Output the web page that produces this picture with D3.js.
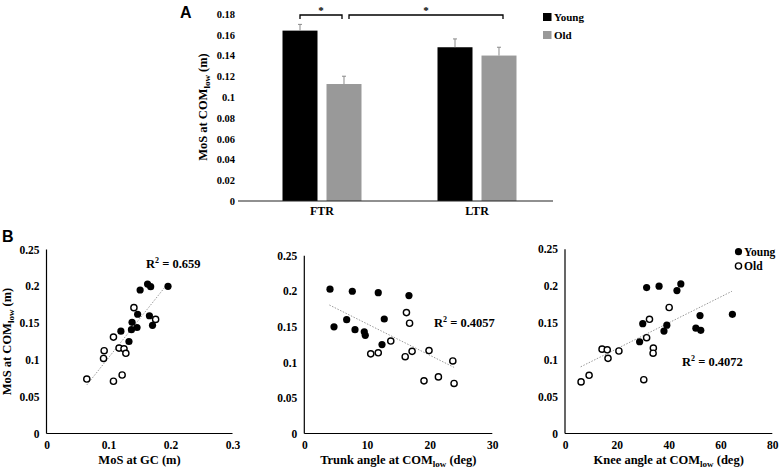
<!DOCTYPE html>
<html><head><meta charset="utf-8">
<script src="https://cdn.jsdelivr.net/npm/d3@7"></script>
<style>
html,body{margin:0;padding:0;background:#fff;}
svg{display:block;}
text{font-family:"Liberation Serif","Times New Roman",serif;font-weight:bold;fill:#000;}
</style></head>
<body><svg id="c" width="781" height="470"></svg>
<script>
// ---- Panel A data ----
const categoriesA = ["FTR", "LTR"];
const groupsA = ["Young", "Old"];
const youngMeans = [0.164, 0.148];
const oldMeans = [0.1126, 0.140];
const youngErr = [0.006, 0.008];
const oldErr = [0.0075, 0.008];
const ticksA = [0, 0.02, 0.04, 0.06, 0.08, 0.1, 0.12, 0.14, 0.16, 0.18];

// ---- Panel B data ----
const ticksMoS = [0, 0.05, 0.1, 0.15, 0.2, 0.25];
const ticksGC = [0, 0.1, 0.2, 0.3];
const ticksTrunk = [0, 10, 20, 30];
const ticksKnee = [0, 20, 40, 60, 80];

const gcYoung = [[0.151,0.195],[0.163,0.203],[0.168,0.1995],[0.196,0.200],[0.147,0.162],[0.166,0.160],[0.171,0.147],[0.138,0.151],[0.146,0.144],[0.137,0.141],[0.120,0.139],[0.133,0.125]];
const gcOld = [[0.141,0.171],[0.176,0.155],[0.108,0.131],[0.117,0.116],[0.125,0.115],[0.128,0.109],[0.093,0.1125],[0.092,0.102],[0.065,0.074],[0.122,0.0795],[0.108,0.071]];
const gcTrend = [[0.065,0.066],[0.193,0.201]];

const trunkYoung = [[4.1,0.203],[7.66,0.200],[11.8,0.198],[16.7,0.194],[6.76,0.160],[12.76,0.161],[4.74,0.150],[8.09,0.146],[9.57,0.143],[9.73,0.138],[12.4,0.125]];
const trunkOld = [[16.3,0.170],[16.8,0.155],[13.8,0.130],[10.6,0.112],[11.8,0.1135],[16.1,0.108],[17.2,0.1155],[19.9,0.1166],[23.7,0.102],[19.1,0.074],[21.4,0.0796],[23.9,0.0704]];
const trunkTrend = [[4.0,0.1807],[23.9,0.093]];

const kneeYoung = [[31.5,0.198],[36.3,0.200],[43.2,0.194],[44.7,0.203],[30.0,0.149],[39.3,0.147],[38.2,0.139],[28.8,0.1245],[52.1,0.160],[50.5,0.143],[52.4,0.140],[64.6,0.1617]];
const kneeOld = [[40.2,0.171],[32.6,0.155],[31.5,0.130],[14.3,0.1145],[16.3,0.1136],[20.8,0.112],[16.6,0.102],[34.1,0.116],[34.0,0.109],[9.3,0.079],[6.2,0.070],[30.4,0.073]];
const kneeTrend = [[6.05,0.0905],[64.4,0.193]];

const r2Labels = ["0.659", "0.4057", "0.4072"];

const svg = d3.select("#c");
const fmt = d => String(+d.toFixed(2));

// ================= Panel A =================
const yA = d3.scaleLinear().domain([0, 0.18]).range([201, 14]);
const xA = d3.scaleBand().domain(categoriesA).range([244.5, 554.5]);
const xInner = d3.scaleBand().domain(groupsA).range([38, 117]).paddingInner(0.2045);
const colorA = {Young: "#000000", Old: "#999999"};
const seriesA = {Young: {m: youngMeans, e: youngErr}, Old: {m: oldMeans, e: oldErr}};

const gA = svg.append("g");
const axA = d3.axisLeft(yA).tickValues(ticksA).tickFormat(fmt).tickSize(0).tickPadding(0);
const gAy = gA.append("g").attr("transform", "translate(235,0)").call(axA);
gAy.select(".domain").remove();
gAy.selectAll("text").style("font-family", '"Liberation Serif",serif').style("font-weight", "bold").style("font-size", "10.5px").attr("fill", "#000");

groupsA.forEach(g => {
  categoriesA.forEach((c, i) => {
    const x0 = xA(c) + xInner(g);
    const v = seriesA[g].m[i];
    const e = seriesA[g].e[i];
    gA.append("rect").attr("x", x0).attr("y", yA(v)).attr("width", xInner.bandwidth())
      .attr("height", yA(0) - yA(v)).attr("fill", colorA[g]);
    const cx = x0 + xInner.bandwidth() / 2;
    gA.append("line").attr("x1", cx).attr("x2", cx).attr("y1", yA(v)).attr("y2", yA(v + e))
      .attr("stroke", "#8a8a8a").attr("stroke-width", 1);
    gA.append("line").attr("x1", cx - 2).attr("x2", cx + 2).attr("y1", yA(v + e)).attr("y2", yA(v + e))
      .attr("stroke", "#8a8a8a").attr("stroke-width", 1);
  });
});
gA.append("line").attr("x1", 238).attr("x2", 553).attr("y1", yA(0)).attr("y2", yA(0))
  .attr("stroke", "#222").attr("stroke-width", 1.2);
const axAx = d3.axisBottom(xA).tickSize(0).tickPadding(0);
const gAx = gA.append("g").attr("transform", `translate(0,${yA(0) + 5})`).call(axAx);
gAx.select(".domain").remove();
gAx.selectAll("text").style("font-family", '"Liberation Serif",serif').style("font-weight", "bold").style("font-size", "12px").attr("fill", "#000").attr("dy", "0.71em");

function bracket(x1, x2, y) {
  gA.append("path").attr("d", `M${x1},${y + 4}V${y}H${x2}V${y + 4}`)
    .attr("fill", "none").attr("stroke", "#000").attr("stroke-width", 1.3);
  gA.append("text").attr("x", (x1 + x2) / 2).attr("y", y - 1).attr("text-anchor", "middle")
    .style("font-size", "11px").text("*");
}
const cYF = xA("FTR") + xInner("Young") + xInner.bandwidth() / 2;
const cOF = xA("FTR") + xInner("Old") + xInner.bandwidth() / 2;
const cOL = xA("LTR") + xInner("Old") + xInner.bandwidth() / 2;
bracket(cYF, cOF - 2, 15);
bracket(cOF + 5, cOL + 4, 15);

gA.append("text").attr("transform", "translate(207,107) rotate(-90)").attr("text-anchor", "middle")
  .style("font-size", "12.5px")
  .call(t => {
    t.append("tspan").text("MoS at COM");
    t.append("tspan").attr("dy", 3).style("font-size", "9px").text("low");
    t.append("tspan").attr("dy", -3).text(" (m)");
  });
groupsA.forEach((g, i) => {
  gA.append("rect").attr("x", 543).attr("y", 13 + i * 18).attr("width", 8.5).attr("height", 8).attr("fill", colorA[g]);
  gA.append("text").attr("x", 554).attr("y", 20.5 + i * 18).style("font-size", "11px").text(g);
});
svg.append("text").attr("x", 180).attr("y", 18).style("font-family", '"Liberation Sans",Arial,sans-serif')
  .style("font-weight", "bold").style("font-size", "16px").text("A");

// ================= Panel B =================
svg.append("text").attr("x", 2).attr("y", 242).style("font-family", '"Liberation Sans",Arial,sans-serif')
  .style("font-weight", "bold").style("font-size", "16px").text("B");

const plots = [
  {young: gcYoung, old: gcOld, trend: gcTrend, xd: [0, 0.3], xr: [46.5, 232.5], yr: [433.5, 249.5], xt: ticksGC,
   title: ["MoS at GC (m)"], r2: r2Labels[0], r2x: 146, r2y: 268, ytitle: true},
  {young: trunkYoung, old: trunkOld, trend: trunkTrend, xd: [0, 30], xr: [304.3, 492.3], yr: [433.5, 255.7], xt: ticksTrunk,
   title: ["Trunk angle at COM", "low", " (deg)"], r2: r2Labels[1], r2x: 434, r2y: 327, ytitle: false},
  {young: kneeYoung, old: kneeOld, trend: kneeTrend, xd: [0, 80], xr: [565, 772.3], yr: [433.5, 249.3], xt: ticksKnee,
   title: ["Knee angle at COM", "low", " (deg)"], r2: r2Labels[2], r2x: 682, r2y: 366, ytitle: false, legend: true}
];

plots.forEach(p => {
  const g = svg.append("g");
  const x = d3.scaleLinear().domain(p.xd).range(p.xr);
  const y = d3.scaleLinear().domain([0, 0.25]).range(p.yr);
  const ax = d3.axisBottom(x).tickValues(p.xt).tickFormat(fmt).tickSize(0).tickPadding(7);
  const gx = g.append("g").attr("transform", `translate(0,${p.yr[0]})`).call(ax);
  gx.select(".domain").attr("stroke", "#000").attr("stroke-width", 1.2).attr("d", `M${p.xr[0]},0H${p.xr[1]}`);
  gx.selectAll("text").style("font-family", '"Liberation Serif",serif').style("font-weight", "bold").style("font-size", "11.5px").attr("fill", "#000");
  const ay = d3.axisLeft(y).tickValues(ticksMoS).tickFormat(fmt).tickSize(0).tickPadding(7);
  const gy = g.append("g").attr("transform", `translate(${p.xr[0]},0)`).call(ay);
  gy.select(".domain").attr("stroke", "#000").attr("stroke-width", 1.2).attr("d", `M0,${p.yr[0]}V${p.yr[1]}`);
  gy.selectAll("text").style("font-family", '"Liberation Serif",serif').style("font-weight", "bold").style("font-size", "11.5px").attr("fill", "#000");

  g.append("line").attr("x1", x(p.trend[0][0])).attr("y1", y(p.trend[0][1]))
    .attr("x2", x(p.trend[1][0])).attr("y2", y(p.trend[1][1]))
    .attr("stroke", "#9a9a9a").attr("stroke-width", 1).attr("stroke-dasharray", "1.5,1.5");
  g.selectAll(".o").data(p.old).join("circle").attr("cx", d => x(d[0])).attr("cy", d => y(d[1]))
    .attr("r", 3.1).attr("fill", "#fff").attr("stroke", "#000").attr("stroke-width", 1.4);
  g.selectAll(".y").data(p.young).join("circle").attr("cx", d => x(d[0])).attr("cy", d => y(d[1]))
    .attr("r", 3.6).attr("fill", "#000");

  const tx = g.append("text").attr("x", (p.xr[0] + p.xr[1]) / 2).attr("y", 464).attr("text-anchor", "middle").style("font-size", "12.5px");
  tx.append("tspan").text(p.title[0]);
  if (p.title.length > 1) {
    tx.append("tspan").attr("dy", 3).style("font-size", "9px").text(p.title[1]);
    tx.append("tspan").attr("dy", -3).text(p.title[2]);
  }
  const tr = g.append("text").attr("x", p.r2x).attr("y", p.r2y).style("font-size", "12.5px");
  tr.append("tspan").text("R");
  tr.append("tspan").attr("dy", -5).style("font-size", "8px").text("2");
  tr.append("tspan").attr("dy", 5).text(" = " + p.r2);

  if (p.ytitle) {
    g.append("text").attr("transform", `translate(11,${(p.yr[0] + p.yr[1]) / 2}) rotate(-90)`).attr("text-anchor", "middle")
      .style("font-size", "12.5px")
      .call(t => {
        t.append("tspan").text("MoS at COM");
        t.append("tspan").attr("dy", 3).style("font-size", "9px").text("low");
        t.append("tspan").attr("dy", -3).text(" (m)");
      });
  }
  if (p.legend) {
    g.append("circle").attr("cx", 738.5).attr("cy", 251.7).attr("r", 3.6).attr("fill", "#000");
    g.append("text").attr("x", 744).attr("y", 255.5).style("font-size", "11.5px").text("Young");
    g.append("circle").attr("cx", 738.5).attr("cy", 266).attr("r", 3.1).attr("fill", "#fff").attr("stroke", "#000").attr("stroke-width", 1.4);
    g.append("text").attr("x", 744).attr("y", 270).style("font-size", "11.5px").text("Old");
  }
});
</script></body></html>
